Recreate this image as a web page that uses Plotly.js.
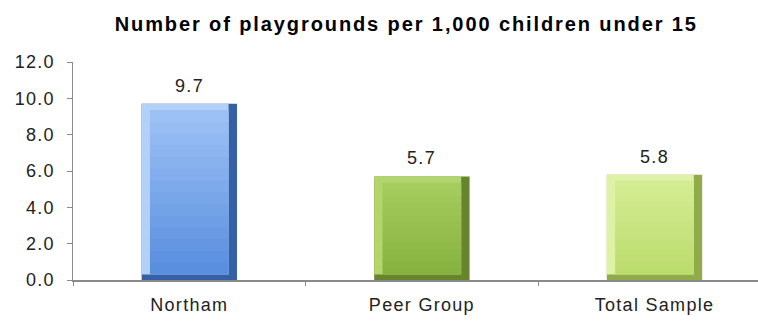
<!DOCTYPE html>
<html>
<head>
<meta charset="utf-8">
<script src="https://cdn.plot.ly/plotly-3.0.1.min.js"></script>
<style>
html,body{margin:0;padding:0;background:#fff;}
#chart{width:758px;height:321px;}
#chart text{letter-spacing:1.3px;}
#chart text.gtitle{letter-spacing:1.9px;}
</style>
</head>
<body>
<div id="chart"></div>
<script>
var categories = ["Northam", "Peer Group", "Total Sample"];
var values = [9.7, 5.7, 5.8];
var labels = ["9.7", "5.7", "5.8"];
var yTicks = [0, 2, 4, 6, 8, 10, 12];
var yTickLabels = ["0.0", "2.0", "4.0", "6.0", "8.0", "10.0", "12.0"];
var chartTitle = "Number of playgrounds per 1,000 children under 15";

// styling (bevelled bars)
var darkEdge = ["#3560a6", "#66852c", "#8fab4a"];
var lightEdge = ["#b3d0f7", "#b2d56c", "#def1a6"];
var faceTop = [[156, 193, 244], [164, 204, 94], [212, 236, 146]];
var faceBottom = [[90, 142, 222], [136, 178, 64], [188, 220, 110]];

var W = 0.41, side = 0.036, bottomBevel = 0.3, topBevel = 0.34, N = 14;

function mix(a, b, t) {
  return "rgb(" + a.map(function(v, j){ return Math.round(v + (b[j] - v) * t); }).join(",") + ")";
}

var traces = [
  {type: "bar", x: categories, y: values, width: W, offset: -W/2,
   marker: {color: darkEdge, line: {width: 0}}, hoverinfo: "none"},
  {type: "bar", x: categories, y: values.map(function(v){return v - bottomBevel;}),
   base: bottomBevel, width: W - side, offset: -W/2,
   marker: {color: lightEdge, line: {width: 0}}, hoverinfo: "none"}
];
for (var k = 0; k < N; k++) {
  (function(k){
    traces.push({type: "bar", x: categories,
      y: values.map(function(v){ var h = (v - bottomBevel - topBevel) / N; return k === N - 1 ? h : h + 0.12; }),
      base: values.map(function(v){ return bottomBevel + k * (v - bottomBevel - topBevel) / N; }),
      width: W - 2*side, offset: -W/2 + side,
      marker: {color: categories.map(function(c, i){ return mix(faceBottom[i], faceTop[i], k/(N-1)); }), line: {width: 0}},
      hoverinfo: "none"});
  })(k);
}

var annotations = categories.map(function(c, i){
  return {x: c, y: values[i], text: labels[i], showarrow: false, yanchor: "bottom", yshift: 6,
          font: {family: "Liberation Sans, Arial, sans-serif", size: 18, color: "#222"}};
});

var layout = {
  width: 758, height: 321,
  margin: {l: 73, r: 0, t: 62, b: 41},
  paper_bgcolor: "#fff", plot_bgcolor: "#fff",
  barmode: "overlay", showlegend: false,
  title: {text: "<b>" + chartTitle + "</b>", x: 0.536, xref: "container", y: 0.925, yref: "container",
          xanchor: "center", yanchor: "middle",
          font: {family: "Liberation Sans, Arial, sans-serif", size: 20, color: "#000"}},
  xaxis: {type: "category", range: [-0.5, 2.445], showgrid: false, zeroline: false,
          showline: true, linecolor: "#8a8a8a", linewidth: 1.5,
          ticks: "outside", tickson: "boundaries", ticklen: 4, tickcolor: "#8a8a8a",
          ticklabelstandoff: 8,
          tickfont: {family: "Liberation Sans, Arial, sans-serif", size: 18, color: "#222"}},
  yaxis: {range: [0, 12], tickvals: yTicks, ticktext: yTickLabels, showgrid: false, zeroline: false,
          showline: true, linecolor: "#8a8a8a", linewidth: 1.5,
          ticks: "outside", ticklen: 5, tickcolor: "#8a8a8a", ticklabelstandoff: 8,
          tickfont: {family: "Liberation Sans, Arial, sans-serif", size: 18, color: "#222"}},
  annotations: annotations
};

Plotly.newPlot("chart", traces, layout, {staticPlot: true, displayModeBar: false});
</script>
</body>
</html>
